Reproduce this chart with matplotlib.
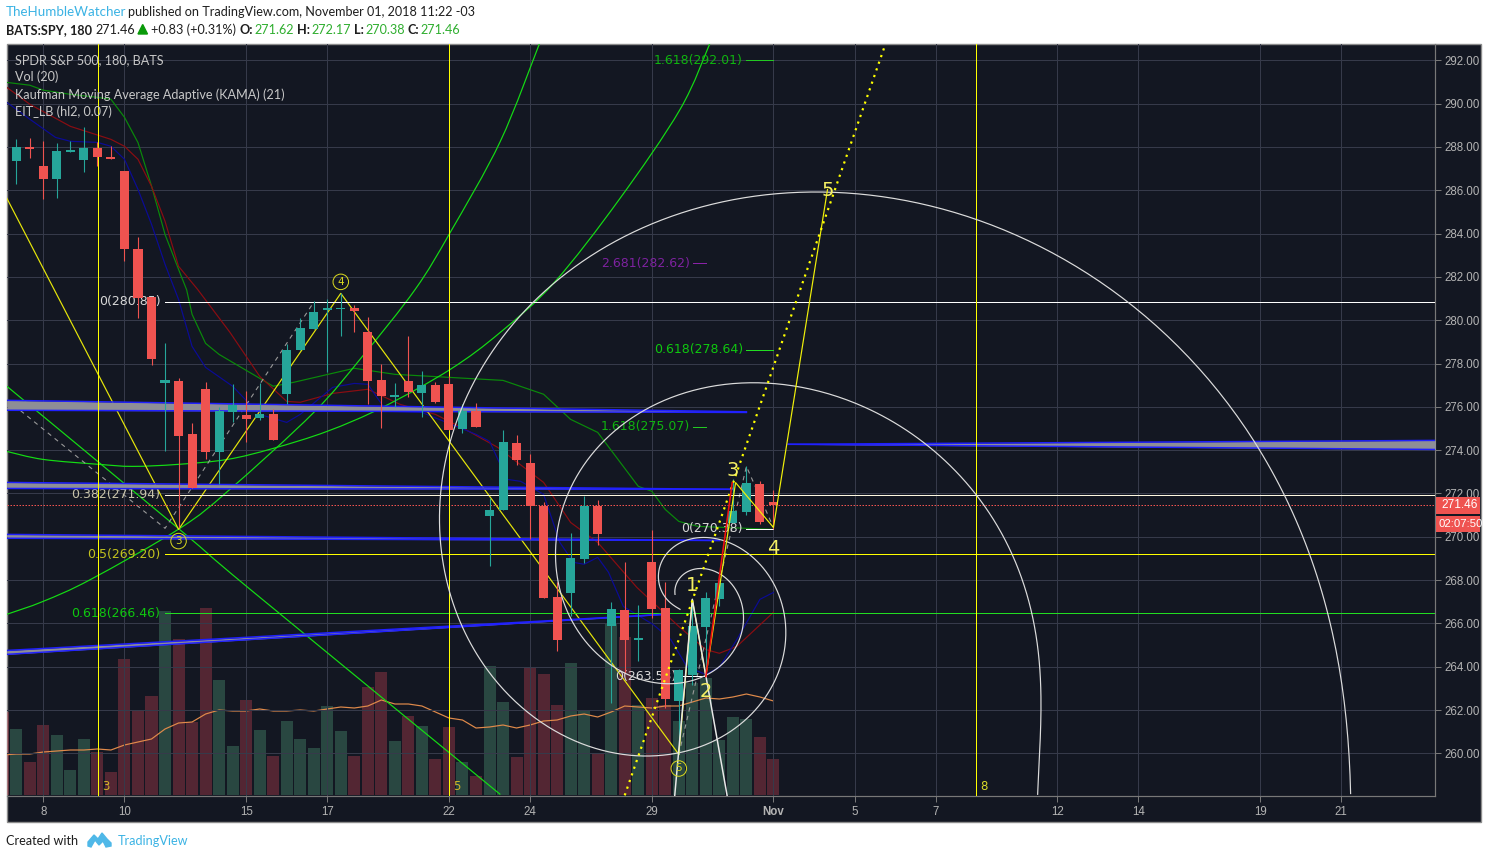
#!/usr/bin/env python3

import numpy as np
import matplotlib
matplotlib.use("Agg")
import matplotlib.pyplot as plt
from matplotlib.patches import PathPatch, Rectangle, Polygon
from matplotlib.path import Path

# candles, one per 3h bar
opens = [287.33, 287.98, 287.10, 286.50, 287.75, 287.38, 287.94, 287.52, 286.87, 283.27,
         281.05, 277.08, 277.18, 274.73, 276.81, 273.90, 275.74, 275.61, 275.47, 275.65,
         276.58, 278.61, 279.58, 280.45, 280.50, 280.55, 279.44, 277.22, 276.44, 277.18,
         276.62, 276.99, 277.04, 274.96, 275.79, 270.94, 271.22, 274.31, 273.39, 271.40,
         267.20, 267.39, 268.96, 271.40, 265.86, 266.60, 265.22, 268.82, 266.69, 262.40,
         263.64, 265.82, 267.11, 270.62, 271.13, 272.42, 271.62]
closes = [287.98, 287.89, 286.50, 287.80, 287.84, 287.94, 287.52, 287.43, 283.27, 281.01,
          278.19, 277.22, 274.64, 272.23, 273.90, 275.79, 276.07, 275.42, 275.65, 274.45,
          278.61, 279.62, 280.36, 280.55, 280.55, 280.41, 277.18, 276.48, 276.53, 276.67,
          276.99, 276.21, 274.91, 275.79, 275.05, 271.22, 274.36, 273.53, 271.40, 267.16,
          265.22, 269.00, 271.40, 270.11, 266.65, 265.22, 265.31, 266.65, 262.49, 263.83,
          265.86, 267.16, 267.85, 271.17, 272.47, 270.66, 271.46]
highs = [288.35, 288.40, 288.26, 288.17, 288.26, 288.91, 288.21, 288.03, 286.87, 283.83,
         281.05, 278.93, 277.32, 275.24, 277.13, 275.97, 277.04, 276.71, 277.08, 275.88,
         278.89, 280.09, 280.87, 280.96, 281.24, 280.69, 280.13, 277.96, 277.08, 279.29,
         277.64, 277.13, 277.41, 276.11, 276.16, 271.77, 274.91, 274.68, 273.80, 271.59,
         267.89, 270.16, 271.86, 271.68, 266.97, 268.82, 266.83, 270.29, 267.89, 263.88,
         267.11, 267.43, 267.85, 272.65, 273.25, 272.56, 272.17]
lows = [286.27, 287.47, 285.58, 285.63, 287.75, 286.83, 287.10, 287.43, 282.72, 280.09,
        277.91, 273.94, 270.39, 272.23, 273.57, 272.42, 275.28, 274.36, 275.37, 274.45,
        276.11, 278.61, 279.58, 277.59, 279.25, 279.44, 276.11, 275.01, 275.97, 276.44,
        275.51, 276.16, 274.91, 274.77, 275.05, 268.63, 271.22, 273.30, 269.88, 267.16,
        264.71, 266.32, 268.77, 269.60, 262.31, 263.69, 264.25, 266.23, 262.08, 259.95,
        263.14, 263.60, 266.79, 270.62, 270.99, 270.57, 270.38]
bars = np.arange(len(opens))

# volume, first bar is the cut off one left of the candles
volumes = [83, 66, 33, 70, 60, 25, 56, 43, 23, 136, 84, 99, 184, 156, 73, 187, 115, 49, 95, 65,
           39, 74, 56, 47, 89, 64, 39, 108, 123, 54, 79, 69, 36, 68, 33, 19, 129, 93, 38, 127,
           121, 90, 132, 85, 42, 172, 158, 90, 97, 90, 74, 112, 117, 55, 78, 76, 58, 36]
vol_ma = [40, 41, 41, 43, 44, 45, 45, 46, 45, 50, 53, 56, 66, 72, 73, 81, 85, 84, 84, 86,
          84, 84, 85, 84, 86, 88, 87, 89, 95, 91, 91, 89, 83, 77, 75, 67, 68, 70, 67, 70,
          74, 75, 79, 81, 78, 83, 89, 88, 87, 89, 89, 93, 97, 96, 98, 101, 98, 94]
vol_bars = np.arange(-1, len(opens))
vol_up = [False, True, False, False, True, True, True, False, False, False, False, False, True,
          False, False, False, True, True, False, True, False, True, True, True, True, True,
          False, False, False, True, False, True, False, False, True, False, True, True, False,
          False, False, False, True, True, False, True, False, True, False, False, True, True,
          True, True, True, True, False, False]

# the three moving averages
green_x = [-0.7, 1, 2, 4, 6, 7, 8, 9, 10, 11, 12, 12.6, 13, 14, 15, 19, 20.5, 25, 28, 32, 36, 39,
           41, 43, 46, 47, 48, 49, 50.4, 56]
green_y = [290.98, 290.85, 290.62, 290.43, 290.29, 290.2, 289.37, 288.2, 286.2, 283.96, 282.35,
           281.4, 280.27, 278.93, 278.42, 276.95, 277.13, 277.78, 277.5, 277.36, 277.22, 276.58,
           275.42, 274.82, 272.33, 272.1, 271.26, 270.71, 270.48, 270.34]
red_x = [-0.7, 1, 4, 7, 8, 9, 10, 11, 12, 13.4, 15.8, 18, 20, 21, 23.4, 26, 28.4, 31, 33.2, 35.6,
         39, 41, 43, 45.9, 49, 51, 52, 53.3, 56]
red_y = [290.75, 289.97, 288.95, 288.35, 288.03, 287.43, 286.18, 284.57, 282.49, 281.43, 279.44,
         277.41, 276.25, 276.21, 276.62, 276.81, 276.11, 275.65, 274.96, 274.13, 272.51, 270.66,
         269.74, 267.66, 265.86, 264.79, 264.62, 264.94, 266.51]
blue_x = [-0.7, 1, 2.9, 4, 6, 7, 8, 9, 10, 11, 12, 13, 14, 16, 18, 20, 21, 23.4, 25, 26, 27.4, 30,
          34, 35, 36.3, 37.3, 39, 40.2, 41.2, 42, 43, 43.8, 44.9, 47.1, 48.4, 49.6, 51, 52, 53.3,
          55, 56]
blue_y = [290.06, 289.28, 288.44, 288.26, 288.21, 288.03, 287.43, 286.04, 284.43, 282.58, 280.96,
          278.79, 277.82, 276.95, 275.65, 275.28, 275.65, 276.9, 277.08, 277.04, 275.79, 275.74,
          274.73, 274.41, 272.65, 272.56, 271.96, 269.74, 268.82, 268.73, 269.05, 268.36, 266.78,
          265.95, 265.26, 264.0, 263.64, 263.97, 265.26, 267.11, 267.43]

# bright green fan curves
fan1_x = [-0.7, 2, 6.2, 8.6, 11.9, 15.6, 19, 23, 27.1, 32.1, 35.8, 39.8, 44.6, 49.1, 51.3]
fan1_y = [273.94, 273.57, 273.34, 273.25, 273.34, 273.57, 274.08, 274.87, 275.98, 277.73, 279.44,
          281.75, 285.58, 289.74, 292.78]
fan2_x = [-0.7, 2, 5.5, 12.1, 15.8, 22, 25.6, 29.5, 32.1, 35.8, 38.7]
fan2_y = [266.42, 267.02, 268.03, 270.39, 272.19, 275.74, 278.33, 281.42, 284.06, 288.26, 292.78]
fan3_x = [-0.7, 11.9, 17.3, 35.8]
fan3_y = [276.95, 270.43, 267.57, 258.1]

# wave count
wave_x = [-0.7, 12, 24, 49]
wave_y = [285.63, 270.34, 281.24, 259.95]
wave2_x = [49, 50, 51, 53.2, 56, 60]
wave2_y = [259.95, 267.11, 263.55, 272.5, 270.43, 286.04]
wave_red_x = [51, 52.95]
wave_red_y = [263.55, 272.5]
white_x = [48.7, 50, 52.57]
white_y = [258.06, 267.11, 258.06]
dash1_x = [-0.7, 11, 22]
dash1_y = [276.34, 270.39, 280.83]
dash2_x = [49, 54, 56]
dash2_y = [259.95, 273.25, 270.43]
dotted_x = [45, 64.3]
dotted_y = [258.06, 292.78]

# channels: x start, x end, upper start, upper end, lower start, lower end
channel_a = [-0.7, 54, 276.3, 275.77, 275.84, 275.74]
channel_b = [-0.7, 53, 272.51, 272.19, 272.23, 272.19]
channel_c = [-0.7, 52, 270.11, 269.83, 269.93, 269.83]
channel_d = [-0.7, 48, 264.75, 266.42, 264.57, 266.42]
channel_e = [57.1, 105, 274.27, 274.45, 274.27, 274.03]

# the two fib spirals
spiral_a_x = [98.65, 98.24, 97.83, 96.95, 95.69, 94.14, 91.84, 89.03, 85.92, 82.08, 76.98, 70.91,
              62.04, 58.49, 52.79, 47.09, 43.4, 40.44, 38.37, 37.04, 35.55, 34.07, 33.03, 32.08,
              31.49, 31.49, 31.93, 32.82, 34.3, 36.74, 39.25, 41.69, 44.13, 46.65, 49.09, 51.53,
              54.05, 55.97, 56.86, 56.86, 55.97, 54.05, 51.09, 49.09, 47.6, 47.6, 48.34, 49.09]
spiral_a_y = [258.15, 262.19, 264.45, 266.52, 269.16, 271.43, 274.06, 276.53, 278.79, 280.96,
              283.02, 284.71, 285.79, 285.86, 285.54, 284.52, 283.37, 282.12, 280.87, 280.04,
              278.75, 277.36, 276.21, 274.36, 272.05, 269.88, 267.71, 265.72, 264.01, 262.63,
              261.43, 260.55, 260.04, 259.81, 259.95, 260.5, 261.71, 263.28, 264.94, 266.33,
              267.89, 269.28, 269.93, 269.74, 268.63, 267.71, 266.97, 266.65]
spiral_b_x = [75.42, 75.87, 75.94, 75.57, 74.76, 73.2, 70.91, 67.8, 65.0, 62.04, 57.75, 55.97,
              52.79, 50.35, 47.09, 43.69, 42.06, 40.8, 40.2, 40.07, 40.73, 42.43, 44.43, 46.65,
              49.09, 51.09, 53.0, 53.75, 53.3, 51.53, 50.05, 48.87, 48.72]
spiral_b_y = [258.15, 260.5, 262.0, 264.64, 266.9, 269.56, 271.98, 274.08, 275.4, 276.23,
              277.0, 277.08, 276.95, 276.58, 275.88, 274.87, 273.67, 272.19, 270.8, 269.28,
              266.79, 264.94, 263.88, 263.28, 263.28, 263.55, 264.8, 266.32, 267.57, 268.4,
              268.5, 267.89, 267.34]
spiral_center = [50, 267.11]

tick_bars = [2, 8, 17, 23, 32, 38, 47, 56, 62, 68, 77, 83, 92, 98]
tick_names = ['8', '10', '15', '17', '22', '24', '29', 'Nov', '5', '7', '12', '14', '19', '21']
price_ticks = np.arange(260, 294, 2)
cycle_bars = [6.06, 32, 70.98]
cycle_names = ['3', '5', '8']
last_price = 271.46

BG = '#131722'
GRID = '#363a4a'
UP = '#26a69a'
DOWN = '#ef5350'
YELLOW = '#ffff00'
FAN = '#14dc14'
W, H = 1487, 858
px = 0.72  # 1 pixel in points at dpi 100

plt.rcParams['font.family'] = ['DejaVu Sans']
fig = plt.figure(figsize=(W / 100, H / 100), dpi=100, facecolor='white')

# page chrome in pixel coords
chrome = fig.add_axes([0, 0, 1, 1], zorder=-1)
chrome.set_xlim(0, W)
chrome.set_ylim(H, 0)
chrome.axis('off')
chrome.add_patch(Rectangle((6.5, 43.5), 1474, 778, facecolor=BG, edgecolor='#8c8c8c', lw=1.4 * px))

ui = ['Lato', 'DejaVu Sans']
def head(x, y, s, color='#1e1e1e', weight='normal', size=9.05):
    chrome.text(x, y, s, color=color, fontsize=size, fontweight=weight, family=ui,
                va='center', ha='left')

head(6, 12, 'TheHumbleWatcher', color='#3bb3e4', size=9.6)
head(128, 12, 'published on TradingView.com, November 01, 2018 11:22 -03')
head(6, 30, 'BATS:SPY, 180', weight='bold')
head(95.5, 30, '271.46')
chrome.add_patch(Polygon([[138, 34], [147.5, 34], [142.7, 24.5]], color='#0a9a0a'))
head(151, 30, '+0.83 (+0.31%)')
HGREEN = '#2fae2f'
for xl, lab, xv, val in [(240, 'O:', 254.5, '271.62'), (297, 'H:', 311, '272.17'),
                         (354, 'L:', 365, '270.38'), (408, 'C:', 420, '271.46')]:
    head(xl, 30, lab, weight='bold')
    head(xv, 30, val, color=HGREEN)

head(6, 841, 'Created with')
head(118, 841, 'TradingView', color='#3bb3e4')
chrome.add_patch(Polygon([[88, 846], [88, 842], [94, 835], [98, 839], [102, 833], [107, 839],
                          [111, 843], [111, 846], [106, 847], [103, 841], [99, 845], [95, 840],
                          [91, 847]], color='#4fb8e8'))

# volume sits behind everything, on its own scale
ax_vol = fig.add_axes([7 / W, (H - 796) / H, 1428 / W, 752 / H], zorder=1)
ax_vol.set_facecolor(BG)
vol_colors = ['#5cb789' if u else '#e84c5b' for u in vol_up]
ax_vol.bar(vol_bars, volumes, width=0.89, color=vol_colors, alpha=0.3, linewidth=0)
ax_vol.plot(vol_bars, vol_ma, color='#e08a4a', lw=1.2 * px)
ax_vol.set_ylim(-1, 751)
ax_vol.set_xlim(-0.688, 104.93)
ax_vol.axis('off')

ax = fig.add_axes([7 / W, (H - 796) / H, 1428 / W, 752 / H], zorder=2)
ax.patch.set_visible(False)
ax.set_xlim(-0.688, 104.93)
ax.set_ylim(258.03, 292.753)

ax.grid(True, color=GRID, lw=1 * px, zorder=0)
ax.set_axisbelow(True)
for name in ['top', 'left']:
    ax.spines[name].set_visible(False)
for name in ['bottom', 'right']:
    ax.spines[name].set_color('#787878')
    ax.spines[name].set_linewidth(1.2 * px)

ax.yaxis.tick_right()
ax.set_yticks(price_ticks)
ax.set_yticklabels(['%.2f' % p for p in price_ticks], family=['Liberation Sans'], fontsize=8.3,
                   color='#b4b4b4')
ax.set_xticks(tick_bars)
ax.set_xticklabels(tick_names, family=['Liberation Sans'], fontsize=8.3, color='#b4b4b4')
ax.get_xticklabels()[tick_names.index('Nov')].set_fontweight('bold')
ax.tick_params(axis='both', length=4, width=1 * px, color='#787878', pad=3)

# moving averages
ax.plot(green_x, green_y, color='#0a8a0a', lw=1.2 * px, zorder=2)
ax.plot(red_x, red_y, color='#8a0d12', lw=1.2 * px, zorder=2)
ax.plot(blue_x, blue_y, color='#0b0b96', lw=1.2 * px, zorder=2)

# smooth curve through the read points
def smooth_patch(xs, ys, color, zorder):
    p = np.column_stack([xs, ys])
    verts = [p[0]]
    codes = [Path.MOVETO]
    for i in range(len(p) - 1):
        before = p[max(i - 1, 0)]
        after = p[min(i + 2, len(p) - 1)]
        verts += [p[i] + (p[i + 1] - before) / 6, p[i + 1] - (after - p[i]) / 6, p[i + 1]]
        codes += [Path.CURVE4] * 3
    return PathPatch(Path(verts, codes), fill=False, edgecolor=color, lw=1.2 * px, zorder=zorder)

for fx, fy in [(fan1_x, fan1_y), (fan2_x, fan2_y), (fan3_x, fan3_y)]:
    ax.add_patch(smooth_patch(fx, fy, FAN, 2))

# first part of the count goes under the candles
ax.plot(wave_x, wave_y, color='#e6e60a', lw=1.2 * px, zorder=3)
for dx, dy in [(dash1_x, dash1_y), (dash2_x, dash2_y)]:
    ax.plot(dx, dy, color='#9a9a9a', lw=1.1 * px, ls=(0, (4, 4)), zorder=3)

# fib levels
ax.plot([11, 104.93], [280.85, 280.85], color='#ffffff', lw=1 * px, zorder=3)
ax.plot([11, 104.93], [271.94, 271.94], color='#fff8e0', lw=1 * px, zorder=3)
ax.plot([11, 104.93], [269.20, 269.20], color=YELLOW, lw=1 * px, zorder=3)
ax.plot([11, 104.93], [266.46, 266.46], color='#22dd22', lw=1 * px, zorder=3)
ax.plot([54, 56], [292.01, 292.01], color='#22c822', lw=1 * px, zorder=3)
ax.plot([50.05, 51], [282.62, 282.62], color='#8a22a8', lw=1 * px, zorder=3)
ax.plot([54, 56], [278.64, 278.64], color='#22dd22', lw=1 * px, zorder=3)
ax.plot([50.05, 51], [275.07, 275.07], color='#22c822', lw=1 * px, zorder=3)
ax.plot([54, 56], [270.38, 270.38], color='white', lw=1 * px, zorder=3)
ax.plot([49, 51], [263.55, 263.55], color='white', lw=1 * px, zorder=3)

def fib_text(x, y, s, color):
    ax.text(x, y, s, color=color, fontsize=9, ha='right', va='center', zorder=3.5)

fib_text(10.65, 280.85, '0(280.85)', '#d8d8d8')
fib_text(10.65, 271.94, '0.382(271.94)', '#c8c4aa')
fib_text(10.65, 269.20, '0.5(269.20)', '#c4c41e')
fib_text(10.65, 266.46, '0.618(266.46)', '#0fc80f')
fib_text(53.75, 292.01, '1.618(292.01)', '#0fb40f')
fib_text(49.8, 282.62, '2.681(282.62)', '#7e22a0')
fib_text(53.75, 278.64, '0.618(278.64)', '#0fc80f')
fib_text(49.8, 275.07, '1.618(275.07)', '#0fb40f')
fib_text(53.75, 270.38, '0(270.38)', '#d8d8d8')
fib_text(48.8, 263.55, '0(263.53)', '#d8d8d8')

# channels
for x0, x1, up0, up1, lo0, lo1 in [channel_a, channel_b, channel_c, channel_d, channel_e]:
    ax.fill_between([x0, x1], [up0, up1], [lo0, lo1], color='#8e8e96', lw=0, zorder=3.6)
    ax.plot([x0, x1], [up0, up1], color='#2020ff', lw=1.5 * px, zorder=3.7)
    ax.plot([x0, x1], [lo0, lo1], color='#2020ff', lw=1.5 * px, zorder=3.7)

ax.axhline(last_price, color=DOWN, lw=1 * px, ls=(0, (1.5, 1.5)), zorder=3.7)
for cb, cn in zip(cycle_bars, cycle_names):
    ax.axvline(cb, color=YELLOW, lw=1 * px, zorder=3.8)
    ax.text(cb + 0.28, 258.45, cn, color='#d4b428' if cn != '8' else '#dcdc28', fontsize=8.5,
            ha='left', va='center', zorder=3.8)

# candles
candle_colors = [UP if c >= o else DOWN for o, c in zip(opens, closes)]
ax.vlines(bars, lows, highs, colors=candle_colors, lw=1.1 * px, zorder=4)
ax.bar(bars, np.abs(np.array(closes) - np.array(opens)), bottom=np.minimum(opens, closes),
       width=0.67, color=candle_colors, linewidth=0, zorder=4.1)

# spirals: smooth log radius against angle around the centre, in pixel proportions
def spiral_line(xs, ys):
    dx = (np.array(xs) - spiral_center[0]) * 13.52
    dy = (np.array(ys) - spiral_center[1]) * 21.656
    ang = np.unwrap(np.arctan2(dy, dx))
    fit = np.polynomial.Polynomial.fit(ang, np.log(np.hypot(dx, dy)), 11)
    t = np.linspace(ang[0], ang[-1], 800)
    r = np.exp(fit(t))
    return spiral_center[0] + r * np.cos(t) / 13.52, spiral_center[1] + r * np.sin(t) / 21.656

for sxs, sys_ in [(spiral_a_x, spiral_a_y), (spiral_b_x, spiral_b_y)]:
    lx, ly = spiral_line(sxs, sys_)
    ax.plot(lx, ly, color='#dcdcdc', lw=1.2 * px, zorder=5)

# last waves are on top of the candles
ax.plot(dotted_x, dotted_y, color=YELLOW, lw=2.2 * px, ls=(0, (1, 2.2)), zorder=5.2)
ax.plot(wave2_x, wave2_y, color='#f0f00a', lw=1.2 * px, zorder=5.05)
ax.plot(white_x, white_y, color='#e8e8e8', lw=1.5 * px, zorder=5.1)
ax.plot(wave_red_x, wave_red_y, color='#f01010', lw=1.6 * px, zorder=5.2)

for nx, ny, s in [(50, 267.75, '1'), (51, 262.85, '2'), (53, 273.05, '3'), (56, 269.45, '4'), (60, 286.0, '5')]:
    ax.text(nx, ny, s, color='#f5f064', fontsize=14, ha='center', va='center', zorder=6)
for nx, ny, s in [(24, 281.77, '4'), (12, 269.8, '3'), (49, 259.3, '5')]:
    ax.scatter([nx], [ny], s=125, facecolors='none', edgecolors='#d8d820', lw=1 * px, zorder=6)
    ax.text(nx, ny, s, color='#d8d820', fontsize=7.5, ha='center', va='center', zorder=6)

# pane legend
for y, s in [(60, 'SPDR S&P 500, 180, BATS'), (77, 'Vol (20)'),
             (94.5, 'Kaufman Moving Average Adaptive (KAMA) (21)'), (111.5, 'EIT_LB (hl2, 0.07)')]:
    fig.text(15 / W, 1 - y / H, s, color='#c8c8c8', fontsize=9.1, family=ui, va='center', ha='left',
             zorder=10)

# last price tag and countdown over the scale
for y0, h, s, fs in [(497, 17, '271.46', 8.6), (516, 15.5, '02:07:50', 8.2)]:
    fig.add_artist(Rectangle((1436 / W, 1 - (y0 + h) / H), 44 / W, h / H, transform=fig.transFigure,
                             facecolor=DOWN, edgecolor='none', zorder=9))
    fig.text(1438.5 / W if fs < 8.5 else 1441 / W, 1 - (y0 + h / 2) / H, s, color='white', fontsize=fs,
             family=['Liberation Sans'], va='center', ha='left', zorder=10)

fig.savefig('out.png', dpi=100, facecolor='white')
